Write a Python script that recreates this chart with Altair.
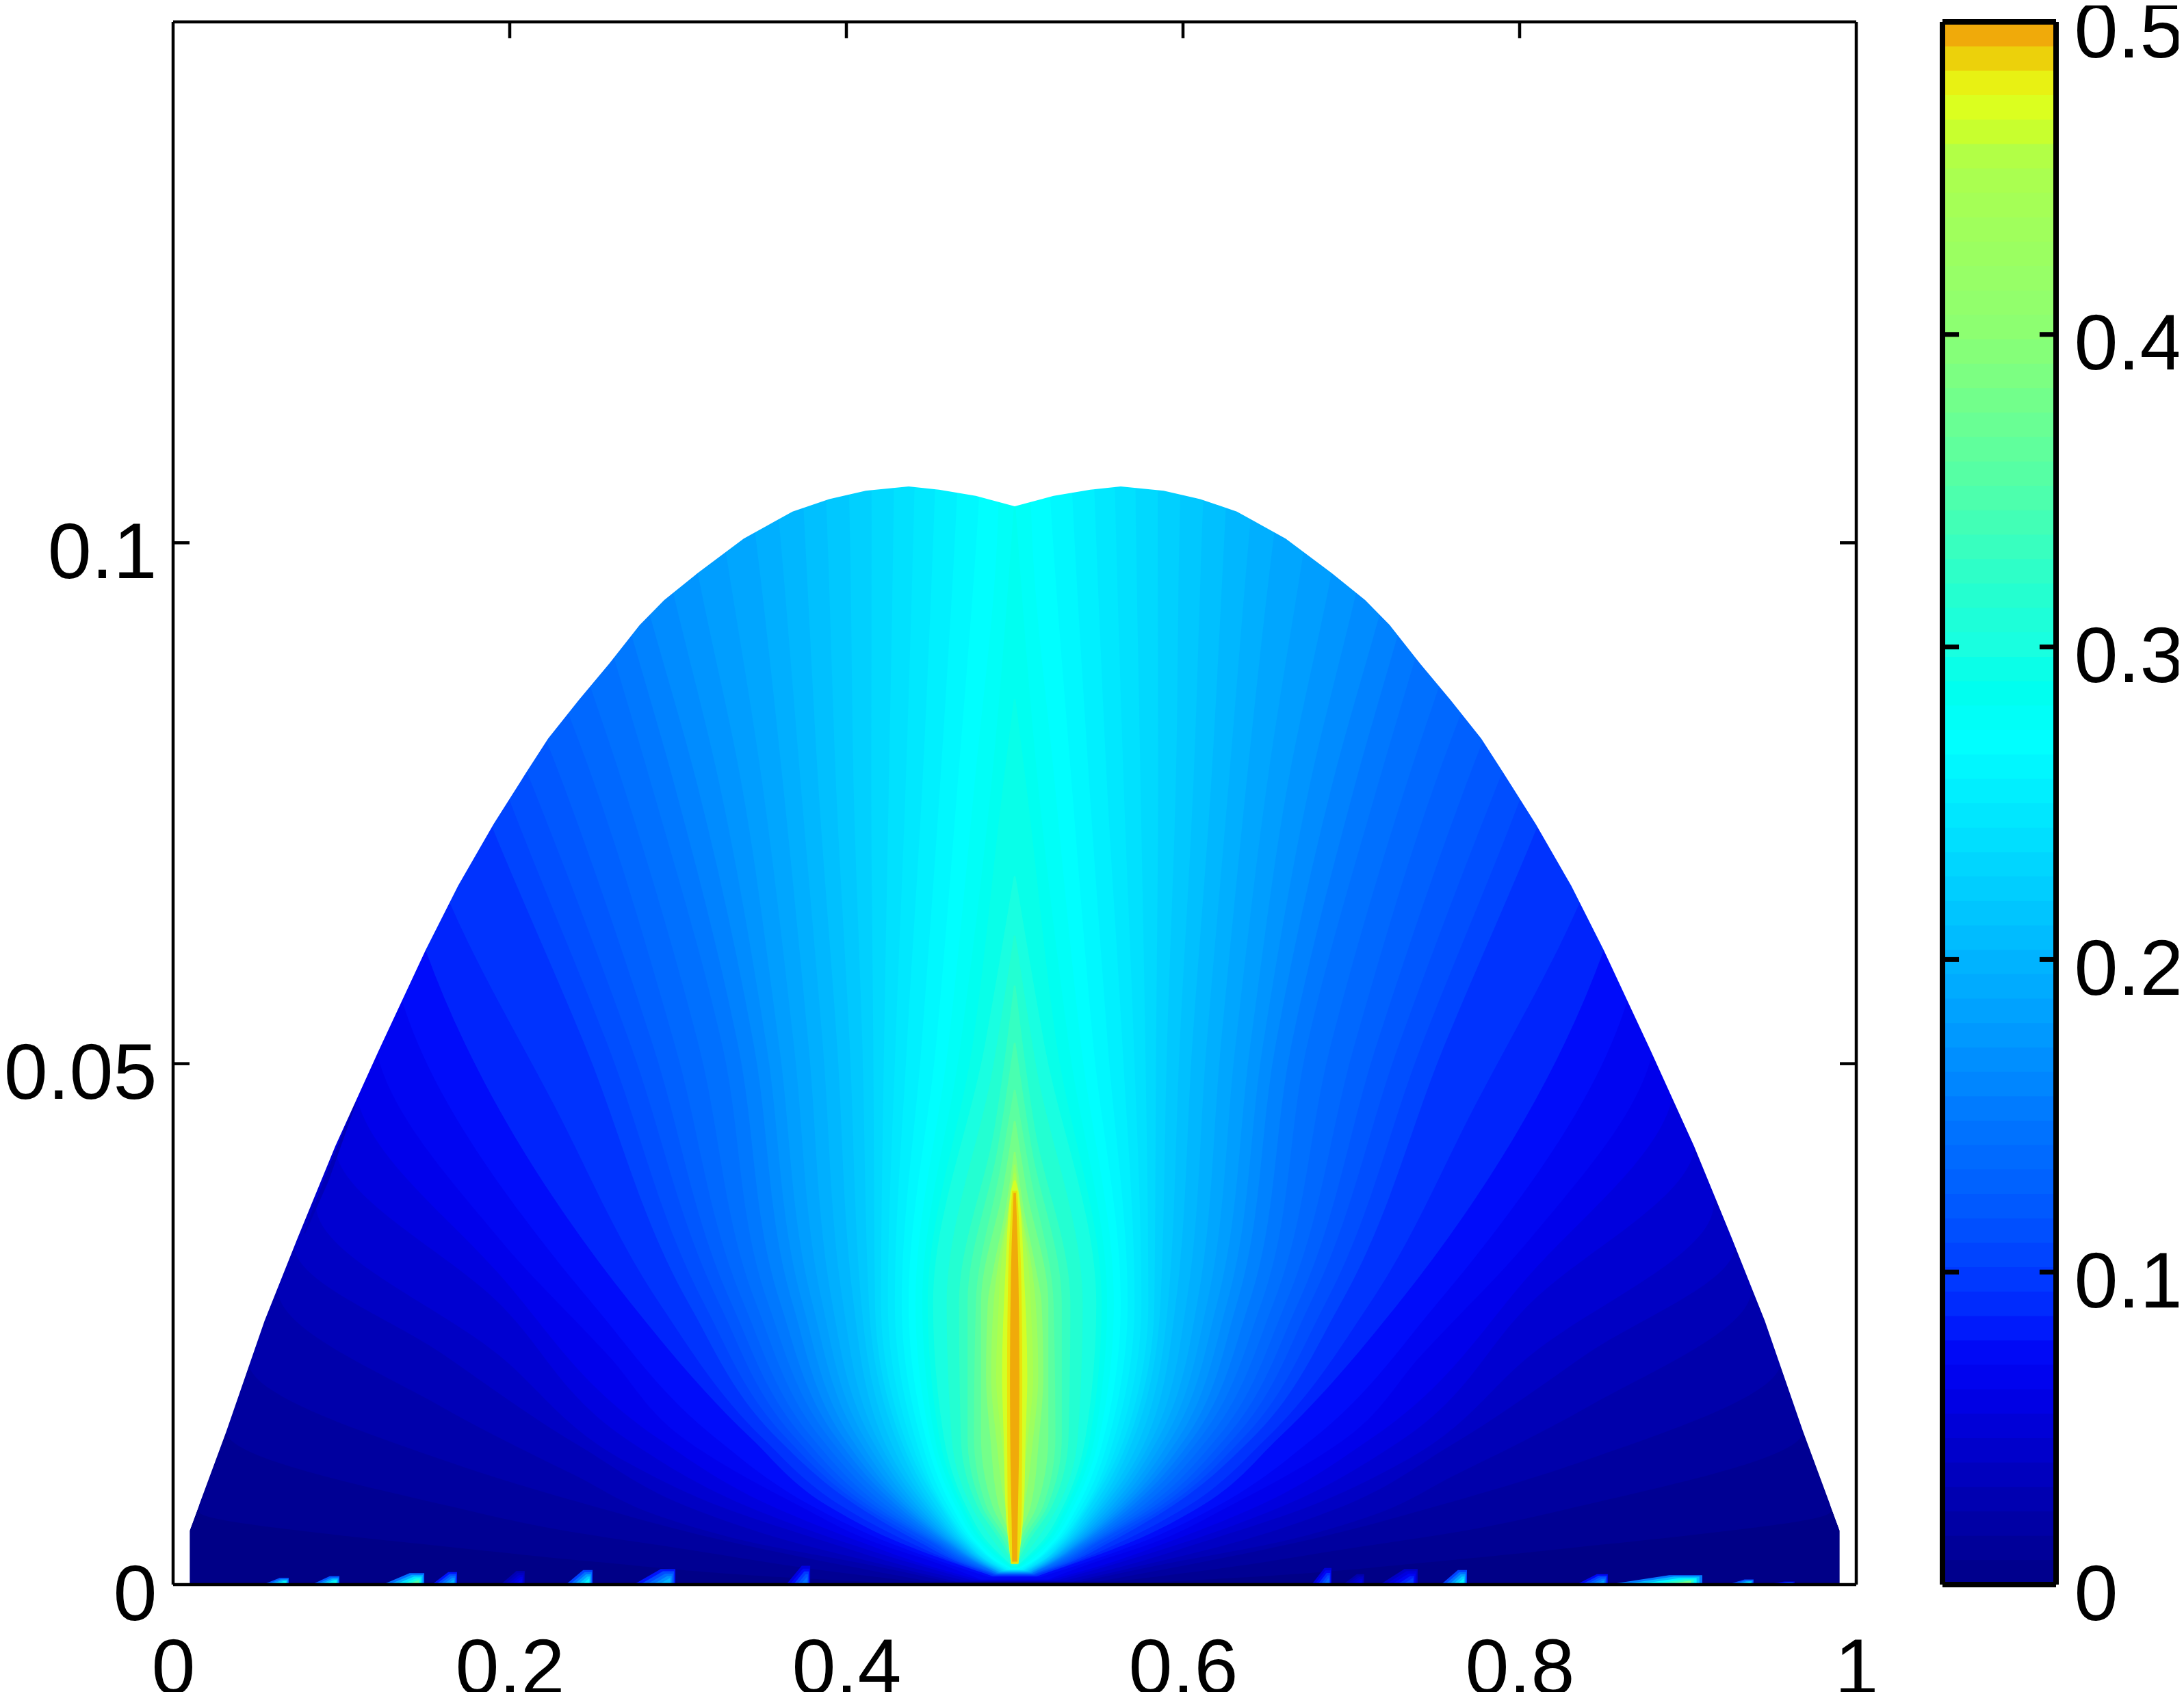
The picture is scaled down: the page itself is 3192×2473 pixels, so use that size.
import altair as alt
import pandas as pd

# ---------- colour map ----------
cmap_values = [0.0, 0.0625, 0.078, 0.1, 0.15, 0.2, 0.25, 0.27, 0.3, 0.35, 0.4, 0.449, 0.457, 0.465, 0.473, 0.48, 0.488, 0.496]
cmap_colors = ["#000087", "#0000eb", "#000cfa", "#003cff", "#0078ff", "#00b4ff", "#00ebff", "#00ffff", "#19ffe1",
               "#50ffaa", "#8cff73", "#aaff50", "#b2ff46", "#c8ff2d", "#dcff1e", "#e8f314", "#ecd20c", "#f0aa0a"]
colorbar_steps = [i * 0.5 / 64 for i in range(64)]

# ---------- domain outline (upper boundary of the shaded region) ----------
outline_x = [0.0099, 0.0316, 0.0543, 0.0738, 0.0964, 0.1217, 0.15, 0.1694, 0.1904, 0.21, 0.2228, 0.241, 0.2591,
             0.2772, 0.2918, 0.3117, 0.339, 0.3535, 0.368, 0.3898, 0.4115, 0.437, 0.4551, 0.4769, 0.5]
outline_y = [0.0052, 0.0147, 0.0253, 0.0332, 0.0421, 0.0511, 0.0609, 0.0671, 0.073, 0.078, 0.0812, 0.0849, 0.0884,
             0.0921, 0.0945, 0.0971, 0.1004, 0.1017, 0.103, 0.1042, 0.105, 0.1054, 0.1051, 0.1045, 0.1035]

# ---------- iso-value curves, left half: level, heights, left edge at that height ----------
level_values = [0.0078, 0.0156, 0.0234, 0.031, 0.039, 0.047, 0.055, 0.0625, 0.07, 0.078, 0.086, 0.094, 0.105,
                0.12, 0.135, 0.15, 0.165, 0.18, 0.195, 0.21, 0.225, 0.24, 0.255, 0.27, 0.285, 0.3, 0.315, 0.33,
                0.36, 0.4, 0.43, 0.45, 0.47, 0.484, 0.4995]
level_ys = [
    [0.0002, 0.0007, 0.0022, 0.0039, 0.0047, 0.007, 0.15],
    [0.0003, 0.0015, 0.0035, 0.0051, 0.0075, 0.0147, 0.15],
    [0.0003, 0.0018, 0.0045, 0.0075, 0.0119, 0.0214, 0.15],
    [0.0003, 0.002, 0.004, 0.0065, 0.0105, 0.0169, 0.0281, 0.15],
    [0.0003, 0.002, 0.004, 0.0072, 0.0133, 0.022, 0.0323, 0.15],
    [0.0004, 0.002, 0.004, 0.0075, 0.0117, 0.022, 0.036, 0.15],
    [0.0004, 0.002, 0.004, 0.0075, 0.0136, 0.027, 0.0416, 0.15],
    [0.0004, 0.002, 0.004, 0.0075, 0.0141, 0.0298, 0.0466, 0.15],
    [0.0005, 0.002, 0.00402, 0.00754, 0.01415, 0.022, 0.0332, 0.0511, 0.15],
    [0.0007, 0.002, 0.004, 0.0075, 0.0141, 0.027, 0.0315, 0.0564, 0.15],
    [0.0008, 0.002, 0.004, 0.0075, 0.0141, 0.027, 0.0371, 0.0609, 0.15],
    [0.0008, 0.002, 0.004, 0.0075, 0.0141, 0.027, 0.0461, 0.0654, 0.15],
    [0.0009, 0.002, 0.00402, 0.00754, 0.01415, 0.027, 0.0518, 0.0766, 0.15],
    [0.001, 0.002, 0.00402, 0.00754, 0.01415, 0.027, 0.0518, 0.0766, 0.09, 0.15],
    [0.001, 0.002, 0.00402, 0.00754, 0.01415, 0.027, 0.0518, 0.0766, 0.09, 0.15],
    [0.0011, 0.002, 0.00402, 0.00754, 0.01415, 0.027, 0.0518, 0.0766, 0.09, 0.15],
    [0.0011, 0.002, 0.00402, 0.00754, 0.01415, 0.027, 0.0518, 0.0766, 0.095, 0.15],
    [0.0012, 0.002, 0.00402, 0.00754, 0.01415, 0.027, 0.0518, 0.0766, 0.0971, 0.15],
    [0.0012, 0.002, 0.00402, 0.00754, 0.01415, 0.027, 0.0518, 0.0766, 0.102, 0.15],
    [0.0013, 0.002, 0.00402, 0.00754, 0.01415, 0.027, 0.0518, 0.0766, 0.102, 0.15],
    [0.0013, 0.002, 0.00402, 0.00754, 0.01415, 0.027, 0.0518, 0.0766, 0.102, 0.15],
    [0.0014, 0.002, 0.00402, 0.00754, 0.01415, 0.027, 0.0518, 0.0766, 0.102, 0.15],
    [0.0014, 0.002, 0.00402, 0.00754, 0.01415, 0.027, 0.0518, 0.0766, 0.102, 0.15],
    [0.0015, 0.002, 0.00402, 0.00754, 0.01415, 0.027, 0.0518, 0.0766, 0.102, 0.15],
    [0.0016, 0.002, 0.00402, 0.00754, 0.01415, 0.027, 0.0518, 0.0766, 0.1035],
    [0.0018, 0.00402, 0.00754, 0.01415, 0.027, 0.0518, 0.068],
    [0.0019, 0.00402, 0.00754, 0.01415, 0.027, 0.05, 0.0623],
    [0.002, 0.00402, 0.00754, 0.01415, 0.027, 0.0438, 0.0575],
    [0.0021, 0.00402, 0.00754, 0.01415, 0.027, 0.04, 0.0475],
    [0.0023, 0.00402, 0.00754, 0.01415, 0.02, 0.027, 0.03, 0.036, 0.0415],
    [0.0025, 0.005, 0.0075, 0.0141, 0.02, 0.027, 0.03, 0.036, 0.0403],
    [0.002, 0.005, 0.0075, 0.0141, 0.02, 0.027, 0.03, 0.036, 0.0395],
    [0.002, 0.0075, 0.0141, 0.02, 0.03, 0.0375, 0.0388],
    [0.002, 0.0075, 0.02, 0.03, 0.0378],
    [0.0022, 0.006, 0.012, 0.02, 0.03, 0.0376],
]
level_xs = [
    [0.42, 0.362, 0.25, 0.147, 0.1008, 0.0154, 0.012],
    [0.44, 0.38, 0.30, 0.235, 0.165, 0.0316, 0.02],
    [0.45, 0.40, 0.32, 0.25, 0.1613, 0.0446, 0.02],
    [0.46, 0.41, 0.345, 0.29, 0.2385, 0.1613, 0.0624, 0.03],
    [0.465, 0.42, 0.37, 0.31, 0.2415, 0.1613, 0.0721, 0.03],
    [0.47, 0.43, 0.39, 0.325, 0.27, 0.1937, 0.085, 0.03],
    [0.475, 0.44, 0.40, 0.3412, 0.2727, 0.1937, 0.0964, 0.03],
    [0.48, 0.445, 0.41, 0.356, 0.2875, 0.1937, 0.1094, 0.03],
    [0.48, 0.455, 0.4174, 0.3723, 0.3023, 0.2585, 0.1937, 0.121, 0.05],
    [0.485, 0.46, 0.4255, 0.38, 0.322, 0.249, 0.2261, 0.1354, 0.05],
    [0.487, 0.465, 0.432, 0.3895, 0.343, 0.272, 0.2261, 0.15, 0.05],
    [0.487, 0.4665, 0.438, 0.3975, 0.35, 0.289, 0.2261, 0.1645, 0.05],
    [0.488, 0.4688, 0.4439, 0.4065, 0.3583, 0.3063, 0.2446, 0.18, 0.05],
    [0.489, 0.4718, 0.4509, 0.4135, 0.3692, 0.3244, 0.2718, 0.2137, 0.18, 0.08],
    [0.489, 0.4747, 0.454, 0.4205, 0.3793, 0.339, 0.2981, 0.2509, 0.22, 0.1],
    [0.49, 0.4773, 0.4571, 0.4275, 0.3894, 0.3535, 0.3262, 0.2845, 0.26, 0.15],
    [0.49, 0.479, 0.4602, 0.433, 0.398, 0.368, 0.345, 0.3117, 0.28, 0.2],
    [0.491, 0.4806, 0.4625, 0.4376, 0.4065, 0.3798, 0.36, 0.338, 0.3117, 0.26],
    [0.491, 0.482, 0.4649, 0.4423, 0.4143, 0.3916, 0.3775, 0.3625, 0.345, 0.3],
    [0.492, 0.4835, 0.4672, 0.447, 0.4213, 0.4043, 0.3945, 0.3834, 0.375, 0.36],
    [0.493, 0.4851, 0.4695, 0.4509, 0.4291, 0.4134, 0.4095, 0.4043, 0.402, 0.39],
    [0.494, 0.4866, 0.4718, 0.4555, 0.4345, 0.4206, 0.4224, 0.4252, 0.428, 0.43],
    [0.495, 0.489, 0.4742, 0.4579, 0.4407, 0.4288, 0.436, 0.4451, 0.452, 0.46],
    [0.4975, 0.4913, 0.4768, 0.4625, 0.447, 0.437, 0.4533, 0.466, 0.478, 0.49],
    [0.498, 0.4944, 0.4804, 0.4672, 0.4524, 0.4451, 0.4678, 0.486, 0.4995],
    [0.4985, 0.4843, 0.4711, 0.4579, 0.4515, 0.4823, 0.4995],
    [0.4988, 0.4882, 0.4742, 0.4625, 0.4596, 0.4875, 0.4995],
    [0.499, 0.4921, 0.4778, 0.468, 0.4669, 0.488, 0.4995],
    [0.4992, 0.496, 0.4831, 0.4758, 0.4769, 0.4915, 0.4995],
    [0.4995, 0.4985, 0.4905, 0.4855, 0.483, 0.484, 0.487, 0.4945, 0.4995],
    [0.4995, 0.4985, 0.4945, 0.489, 0.486, 0.4875, 0.4895, 0.496, 0.4995],
    [0.4985, 0.4975, 0.4965, 0.4921, 0.489, 0.4905, 0.4915, 0.4965, 0.4995],
    [0.4978, 0.4945, 0.4935, 0.4925, 0.4945, 0.4975, 0.4995],
    [0.4978, 0.4958, 0.4955, 0.4962, 0.4985],
    [0.4985, 0.4982, 0.4975, 0.4972, 0.4978, 0.4993],
]

# finer bands of the central fan
fine_values = [0.1125, 0.1275, 0.1425, 0.1575, 0.1725, 0.1875, 0.2025, 0.2175, 0.2325, 0.2475, 0.2625, 0.2775, 0.2925, 0.345, 0.38]
fine_ys = [
    [0.00095, 0.002, 0.00402, 0.00754, 0.01415, 0.027, 0.0518, 0.0766, 0.15],
    [0.001, 0.002, 0.00402, 0.00754, 0.01415, 0.027, 0.0518, 0.0766, 0.09, 0.15],
    [0.00105, 0.002, 0.00402, 0.00754, 0.01415, 0.027, 0.0518, 0.0766, 0.09, 0.15],
    [0.0011, 0.002, 0.00402, 0.00754, 0.01415, 0.027, 0.0518, 0.0766, 0.0925, 0.15],
    [0.00115, 0.002, 0.00402, 0.00754, 0.01415, 0.027, 0.0518, 0.0766, 0.096, 0.15],
    [0.0012, 0.002, 0.00402, 0.00754, 0.01415, 0.027, 0.0518, 0.0766, 0.0995, 0.15],
    [0.00125, 0.002, 0.00402, 0.00754, 0.01415, 0.027, 0.0518, 0.0766, 0.102, 0.15],
    [0.0013, 0.002, 0.00402, 0.00754, 0.01415, 0.027, 0.0518, 0.0766, 0.102, 0.15],
    [0.00135, 0.002, 0.00402, 0.00754, 0.01415, 0.027, 0.0518, 0.0766, 0.102, 0.15],
    [0.0014, 0.002, 0.00402, 0.00754, 0.01415, 0.027, 0.0518, 0.0766, 0.102, 0.15],
    [0.00145, 0.002, 0.00402, 0.00754, 0.01415, 0.027, 0.0518, 0.0766, 0.102, 0.15],
    [0.00155, 0.002, 0.00402, 0.00754, 0.01415, 0.027, 0.0518, 0.0766, 0.102, 0.15],
    [0.0017, 0.00402, 0.00754, 0.01415, 0.027, 0.0518, 0.0766, 0.085],
    [0.00205, 0.00402, 0.00754, 0.01415, 0.027, 0.042, 0.052],
    [0.0022, 0.00402, 0.00754, 0.01415, 0.027, 0.038, 0.0445],
]
fine_xs = [
    [0.4885, 0.4703, 0.4474, 0.41, 0.3638, 0.3154, 0.2582, 0.1969, 0.065],
    [0.489, 0.4733, 0.4525, 0.417, 0.3743, 0.3317, 0.285, 0.2323, 0.2, 0.09],
    [0.4895, 0.476, 0.4556, 0.424, 0.3844, 0.3463, 0.3122, 0.2677, 0.24, 0.125],
    [0.49, 0.4782, 0.4587, 0.4303, 0.3937, 0.3608, 0.3356, 0.2981, 0.27, 0.175],
    [0.4905, 0.4798, 0.4614, 0.4353, 0.4023, 0.3739, 0.3525, 0.3249, 0.296, 0.23],
    [0.491, 0.4813, 0.4637, 0.44, 0.4104, 0.3857, 0.3688, 0.3503, 0.328, 0.28],
    [0.4915, 0.4828, 0.4661, 0.4447, 0.4178, 0.398, 0.386, 0.373, 0.36, 0.33],
    [0.4925, 0.4843, 0.4684, 0.449, 0.4252, 0.4089, 0.402, 0.3939, 0.3885, 0.375],
    [0.4935, 0.4859, 0.4707, 0.4532, 0.4318, 0.417, 0.416, 0.4148, 0.415, 0.41],
    [0.4945, 0.4878, 0.473, 0.4567, 0.4376, 0.4247, 0.4292, 0.4352, 0.44, 0.445],
    [0.496, 0.4902, 0.4755, 0.4602, 0.4439, 0.4329, 0.4447, 0.4556, 0.465, 0.475],
    [0.4978, 0.4929, 0.4786, 0.4649, 0.4497, 0.4411, 0.4606, 0.476, 0.49, 0.495],
    [0.4983, 0.4824, 0.4692, 0.4552, 0.4483, 0.475, 0.493, 0.4995],
    [0.4991, 0.494, 0.4805, 0.472, 0.472, 0.49, 0.4995],
    [0.4993, 0.4973, 0.4868, 0.48, 0.48, 0.493, 0.4995],
]

# ---------- small patches along the bottom edge: left, right, height, peak value ----------
spot_left = [0.0533, 0.0823, 0.1245, 0.1537, 0.1946, 0.2333, 0.2736, 0.3642, 0.6764, 0.695, 0.717, 0.7533, 0.8337, 0.8524, 0.9236, 0.946]
spot_right = [0.0687, 0.0988, 0.1492, 0.1687, 0.2089, 0.2492, 0.2984, 0.3785, 0.6882, 0.7077, 0.7394, 0.7687, 0.8524, 0.9085, 0.939, 0.9634]
spot_top = [0.00064, 0.0008, 0.0011, 0.0012, 0.0013, 0.0014, 0.0015, 0.0018, 0.0016, 0.001, 0.0015, 0.0014, 0.001, 0.0009, 0.0005, 0.0003]
spot_peak = [0.3, 0.3, 0.35, 0.2, 0.07, 0.26, 0.2, 0.14, 0.13, 0.06, 0.1, 0.26, 0.18, 0.38, 0.27, 0.15]
spot_fracs = [1.0, 0.85, 0.7, 0.55, 0.4]

# wedge of lower value just inside the left outline
wedge_y = [0.0337, 0.0388, 0.0461]
wedge_x = [0.0775, 0.0895, 0.1075]
wedge_x2 = [0.0785, 0.0925, 0.1085]

main_x_ticks = [0, 0.2, 0.4, 0.6, 0.8, 1]
main_y_ticks = [0, 0.05, 0.1]
bar_ticks = [0, 0.1, 0.2, 0.3, 0.4, 0.5]

FONT = "Liberation Sans"
FS = 115
color_scale = alt.Scale(domain=cmap_values, range=cmap_colors, clamp=True)
COL = alt.Color("v:Q", scale=color_scale, legend=None)
XS = alt.Scale(domain=[0, 1], nice=False, zero=False)
YS = alt.Scale(domain=[0, 0.15], nice=False, zero=False)
BY = alt.Scale(domain=[0, 0.5], nice=False, zero=False)
BX = alt.Scale(domain=[0, 1], nice=False, zero=False)
LABELS = dict(format="~g", title=None, grid=False, domain=False, ticks=False, labelFont=FONT, labelFontSize=FS,
              labelColor="black", labelOverlap=False, labelFlush=False, labelLimit=500)
XAX = alt.Axis(values=main_x_ticks, labelPadding=68, **LABELS)
YAX = alt.Axis(values=main_y_ticks, labelPadding=24, labelOffset=16, **LABELS)
BAX = alt.Axis(values=bar_ticks, orient="right", labelPadding=26, labelOffset=16, **LABELS)
XE = alt.X("x:Q", scale=XS, axis=XAX)
YE = alt.Y("y:Q", scale=YS, axis=YAX)


def band(rows, interp="monotone"):
    return alt.Chart(pd.DataFrame(rows)).mark_area(orient="horizontal", interpolate=interp).encode(
        y=YE, x=XE, x2="x2:Q", color=COL)


full_x = outline_x + [1 - a for a in reversed(outline_x[:-1])]
full_y = outline_y + list(reversed(outline_y[:-1]))
mask_x = [0.0] + full_x + [1.0]
mask_y = [outline_y[0]] + full_y + [outline_y[0]]

layers = []
# base fill under the outline
layers.append(alt.Chart(pd.DataFrame({"x": full_x, "y": full_y, "y2": [0.0] * len(full_x), "v": [0.0] * len(full_x)}))
              .mark_area().encode(x=XE, y=YE, y2="y2:Q", color=COL))

all_levels = sorted(list(zip(level_values, level_ys, level_xs)) + list(zip(fine_values, fine_ys, fine_xs)), key=lambda t: t[0])
for L, ys, xs in all_levels:
    layers.append(band([{"y": a, "x": b, "x2": 1 - b, "v": L} for a, b in zip(ys, xs)]))

layers.append(band([{"y": a, "x": b, "x2": c, "v": 0.03} for a, b, c in zip(wedge_y, wedge_x, wedge_x2)], "linear"))

for l, r, t, p in zip(spot_left, spot_right, spot_top, spot_peak):
    for f in spot_fracs:
        w = (r - l) * f
        rows = [{"y": 0, "x": r - w, "x2": r - (1 - f) * (r - l) * 0.2, "v": p * (1.4 - f)},
                {"y": t * f, "x": r - w * 0.35, "x2": r - (1 - f) * (r - l) * 0.2, "v": p * (1.4 - f)}]
        layers.append(band(rows, "linear"))

# white above the outline
layers.append(alt.Chart(pd.DataFrame({"x": mask_x, "y": mask_y, "y2": [0.15] * len(mask_x)}))
              .mark_area(color="white").encode(x=XE, y=YE, y2="y2:Q"))

# frame and inward ticks
FRAME = 4.5
frame = pd.DataFrame({"x": [0, 1, 0, 0], "x2": [0, 1, 1, 1], "y": [0, 0, 0, 0.15], "y2": [0.15, 0.15, 0, 0.15]})
layers.append(alt.Chart(frame).mark_rule(color="black", strokeWidth=FRAME).encode(x=XE, x2="x2:Q", y=YE, y2="y2:Q"))
tk = []
for t in main_x_ticks[1:-1]:
    tk.append({"x": t, "x2": t, "y": 0.15, "y2": 0.15 - 0.00157})
for t in main_y_ticks[1:]:
    tk.append({"x": 0, "x2": 0.00976, "y": t, "y2": t})
    tk.append({"x": 1, "x2": 1 - 0.00976, "y": t, "y2": t})
layers.append(alt.Chart(pd.DataFrame(tk)).mark_rule(color="black", strokeWidth=FRAME).encode(x=XE, x2="x2:Q", y=YE, y2="y2:Q"))

main = alt.layer(*layers).properties(width=2460, height=2284)

# ---------- colour bar ----------
BYE = alt.Y("y:Q", scale=BY, axis=BAX)
BXE = alt.X("x:Q", scale=BX, axis=None)
bar_df = pd.DataFrame({"x": [0.0] * 64, "x2": [1.0] * 64, "y": colorbar_steps, "y2": [0.5] * 64,
                       "v": [s + 0.5 / 128 for s in colorbar_steps]})
bar_layers = [alt.Chart(bar_df.iloc[[i]]).mark_rect().encode(x=BXE, x2="x2:Q", y=BYE, y2="y2:Q", color=COL) for i in range(64)]
bar_frame = pd.DataFrame({"x": [0, 1, 0, 0], "x2": [0, 1, 1, 1], "y": [0, 0, 0, 0.5], "y2": [0.5, 0.5, 0, 0.5]})
bar_layers.append(alt.Chart(bar_frame).mark_rule(color="black", strokeWidth=8).encode(x=BXE, x2="x2:Q", y=BYE, y2="y2:Q"))
btk = []
for t in bar_ticks[1:-1]:
    btk.append({"x": 0, "x2": 0.145, "y": t, "y2": t})
    btk.append({"x": 1, "x2": 0.855, "y": t, "y2": t})
bar_layers.append(alt.Chart(pd.DataFrame(btk)).mark_rule(color="black", strokeWidth=7).encode(x=BXE, x2="x2:Q", y=BYE, y2="y2:Q"))
colorbar = alt.layer(*bar_layers).properties(width=166, height=2284)

chart = alt.hconcat(main, colorbar, spacing=126, bounds="flush").resolve_scale(color="shared").properties(
    padding={"left": -4, "top": -18, "right": -8, "bottom": -24}
).configure_view(stroke=None).configure(background="white")
chart.save("out.html", embed_options={"renderer": "svg", "actions": False})
